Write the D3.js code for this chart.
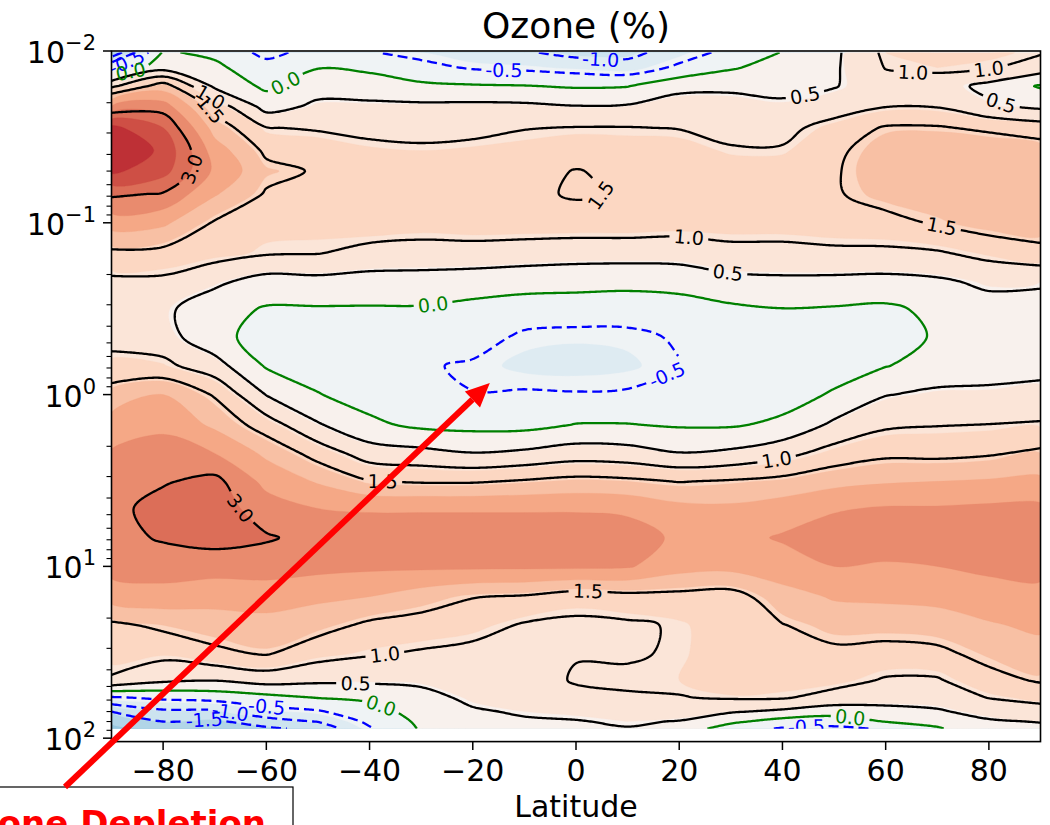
<!DOCTYPE html>
<html><head><meta charset="utf-8">
<script src="https://cdn.jsdelivr.net/npm/d3@7"></script>
<style>
body{margin:0;background:#fff;}
svg{display:block;font-family:"DejaVu Sans",sans-serif;}
</style>
</head><body>
<svg id="chart" width="1050" height="825"></svg>
<script>
// ---------------- DATA ----------------
const latitudes = [-90,-80,-70,-60,-50,-40,-30,-20,-10,0,10,20,30,40,50,60,70,80,90];
const pressures = [0.0102,0.0125,0.016,0.021,0.028,0.038,0.05,0.068,0.1,0.15,0.22,0.32,0.46,0.68,1.0,1.5,2.2,3.2,4.6,6.8,10,15,22,32,46,58,70,80,88];
// ozone change (%) per latitude, top (0.0102 hPa) to bottom (88 hPa)
const lat_m90 = [-1.9,-0.52,0.9,2.5,4.15,4.45,4.1,3.1,2.2,1.4,0.9,0.7,0.8,1.2,1.7,2.2,2.55,2.75,2.85,2.85,2.7,2.2,1.4,1.2,0.95,-0.55,-1.5,-1.9,-2.2];
const lat_m80 = [0.05,0.3,1.75,2.75,3.5,3.9,3.7,2.95,2.1,1.35,0.9,0.6,0.7,1.13,2.0,2.4,2.7,2.95,3.2,3.05,2.75,2.3,1.6,1.15,0.6,-0.4,-1.1,-1.5,-1.8];
const lat_m70 = [-0.1,0.1,0.4,1.3,1.8,2.25,2.4,2.05,1.45,1.2,0.6,0.2,0.15,0.7,1.45,1.9,2.5,3.15,3.25,3.2,2.7,2.2,1.75,1.4,0.52,-0.3,-1.1,-1.6,-1.8];
const lat_m60 = [-0.65,-0.3,-0.1,0.3,1.02,1.4,1.65,1.45,1.2,1.05,0.3,-0.05,-0.2,-0.05,0.48,1.25,1.9,2.35,2.75,3.05,2.75,2.2,1.85,1.55,0.7,-0.15,-0.7,-1.2,-1.6];
const lat_m50 = [-0.3,-0.02,0.3,0.6,0.95,1.3,1.45,1.35,1.2,1.02,0.35,-0.05,-0.25,-0.2,0.02,0.55,1.3,1.95,2.5,2.85,2.65,2.1,1.7,1.2,0.6,0.02,-0.55,-0.98,-1.35];
const lat_m40 = [-0.47,-0.1,0.25,0.6,0.85,1.15,1.3,1.4,1.3,0.85,0.3,-0.05,-0.3,-0.35,-0.2,0.1,0.75,1.52,2.45,2.8,2.6,2.0,1.4,1.05,0.6,0.1,-0.2,-0.4,-0.55];
const lat_m30 = [-0.65,-0.35,0.1,0.6,0.8,1.1,1.3,1.35,1.25,0.8,0.3,-0.05,-0.3,-0.45,-0.35,-0.1,0.65,1.45,2.45,2.8,2.6,1.75,1.3,0.95,0.6,0.35,0.2,0.1,0.05];
const lat_m20 = [-0.85,-0.55,0.05,0.62,0.85,1.15,1.3,1.35,1.3,0.8,0.25,-0.15,-0.3,-0.56,-0.49,-0.15,0.52,1.45,2.45,2.8,2.6,1.52,1.2,0.85,0.65,0.6,0.45,0.4,0.35];
const lat_m10 = [-0.95,-0.6,0.02,0.6,0.98,1.2,1.35,1.4,1.3,0.75,0.2,-0.25,-0.58,-0.72,-0.45,-0.15,0.6,1.55,2.45,2.8,2.6,1.45,0.95,0.8,0.75,0.65,0.55,0.45,0.4];
const lat_0   = [-1.15,-0.7,-0.05,0.52,1.02,1.3,1.52,1.55,1.3,0.7,0.18,-0.28,-0.62,-0.75,-0.47,0.02,0.75,1.65,2.45,2.8,2.6,1.25,0.88,0.97,1.05,0.85,0.6,0.48,0.45];
const lat_p10 = [-1.15,-0.8,-0.02,0.55,1.02,1.25,1.4,1.45,1.3,0.7,0.15,-0.3,-0.6,-0.7,-0.45,0.02,0.7,1.6,2.4,2.75,2.55,1.35,0.92,0.95,1.08,0.95,0.7,0.55,0.48];
const lat_p20 = [-0.75,-0.4,0.35,0.75,0.98,1.25,1.4,1.45,1.25,0.7,0.2,-0.25,-0.45,-0.52,-0.35,-0.05,0.52,1.48,2.15,2.4,2.2,1.35,1.05,1.05,1.1,0.98,0.7,0.48,0.3];
const lat_p30 = [-0.35,-0.05,0.4,0.7,0.85,1.05,1.3,1.4,1.25,0.85,0.35,-0.1,-0.3,-0.35,-0.25,-0.05,0.6,1.55,2.1,2.35,2.15,1.3,1.3,1.3,1.4,1.05,0.55,0.1,-0.25];
const lat_p40 = [0.02,0.2,0.35,0.6,0.85,1.05,1.3,1.4,1.25,0.85,0.4,-0.02,-0.25,-0.3,-0.2,0.1,0.85,1.65,2.25,2.55,2.3,1.8,1.48,1.3,1.2,1.05,0.4,-0.2,-0.55];
const lat_p50 = [0.4,0.43,0.47,0.75,1.2,1.4,1.45,1.45,1.3,0.9,0.38,-0.05,-0.25,-0.2,0.05,0.6,1.2,1.85,2.45,2.75,2.5,2.05,1.7,1.4,1.2,0.8,0.25,-0.3,-0.6];
const lat_p60 = [1.1,1.02,0.8,0.98,1.55,1.75,1.8,1.7,1.35,0.9,0.35,-0.1,-0.2,-0.02,0.48,0.92,1.4,1.95,2.55,2.75,2.45,2.1,1.7,1.35,0.95,0.7,0.35,0.02,-0.45];
const lat_p70 = [1.2,1.1,0.75,0.97,1.55,1.85,1.9,1.8,1.55,0.95,0.42,0.12,0.05,0.2,0.6,0.98,1.38,2.0,2.55,2.75,2.5,2.15,1.75,1.4,0.95,0.7,0.45,0.15,-0.05];
const lat_p80 = [1.15,1.05,0.35,0.6,1.4,1.9,1.95,1.9,1.75,1.15,0.6,0.3,0.2,0.3,0.6,1.01,1.45,2.05,2.6,2.85,2.6,2.3,1.95,1.65,1.35,1.02,0.65,0.45,0.35];
const lat_p90 = [1.05,0.75,-0.05,0.4,1.25,1.75,1.9,1.9,1.8,1.35,0.55,0.35,0.25,0.35,0.65,1.05,1.6,2.1,2.6,2.85,2.6,2.4,2.1,1.8,1.55,1.2,0.75,0.52,0.4];
const columns = [lat_m90,lat_m80,lat_m70,lat_m60,lat_m50,lat_m40,lat_m30,lat_m20,lat_m10,lat_0,lat_p10,lat_p20,lat_p30,lat_p40,lat_p50,lat_p60,lat_p70,lat_p80,lat_p90];

// filled-contour boundaries (shaded field) and the nominal band each one starts
const fillLevels   = [-2.5,-2.0,-1.5,-1.05,-0.65,0,0.55,1.1,1.6,2.0,2.5,3.0,3.5,4.0,4.5];
const fillNominal  = [-2.5,-2.0,-1.5,-1.0,-0.5,0,0.5,1.0,1.5,2.0,2.5,3.0,3.5,4.0,4.5];
const lineLevels = [-1.5,-1.0,-0.5,0.0,0.5,1.0,1.5,3.0];
// inline contour labels: [level, latitude, pressure]
const labelLevels = [0.0,1.0,1.5,3.0,-0.5,-1.0,1.5,0.5,1.0,1.0,0.5,1.5,1.0,0.5,0.0,-0.5,1.0,1.5,3.0,1.5,1.0,0.5,0.0,-0.5,-1.0,-1.5,0.0,-0.5,0.0,-0.5];
const labelLats   = [-56,-70.3,-71,-76.7,-14.1,4.6,7.5,44.4,65.3,80.2,82.7,70.7,21.7,29.4,-27.7,17.8,38.9,-37.4,-64.1,2.3,-37,-42.8,-37.4,-60,-67,-72,53,44.7,-86.4,-87.4];
const labelPres   = [0.0162,0.0173,0.0223,0.0461,0.0129,0.0117,0.085,0.0173,0.0144,0.0147,0.018,0.110,0.1276,0.188,0.293,0.790,2.50,3.14,4.39,12.8,31.9,49,60,64,71,74,75,83.8,0.0124,0.0108];

const xTicks = [-80,-60,-40,-20,0,20,40,60,80];
const yMajorTicks = [0.01,0.1,1,10,100];
const yTickExponents = ['\u22122','\u22121','0','1','2'];

const titleText = 'Ozone (%)';
const xLabelText = 'Latitude';
const annotationText = 'Ozone Depletion';
const arrowTipLat = -16.7, arrowTipPres = 0.856;

// ---------------- SETUP ----------------
const svg = d3.select('#chart');
const x = d3.scaleLinear().domain([-90, 90]).range([111.5, 1040.5]);
const y = d3.scaleLog().domain([0.01, 104.7]).range([51, 741.6]);

const nx = latitudes.length, ny = pressures.length;
const values = new Array(nx * ny);
for (let j = 0; j < ny; j++) for (let i = 0; i < nx; i++) values[j * nx + i] = columns[i][j];

const logP = pressures.map(p => Math.log10(p));
function gridToPixel(pt) {
  const u = Math.max(0, Math.min(nx - 1, pt[0] - 0.5));
  const v = Math.max(0, Math.min(ny - 1, pt[1] - 0.5));
  const i0 = Math.min(nx - 2, Math.floor(u)), fu = u - i0;
  const j0 = Math.min(ny - 2, Math.floor(v)), fv = v - j0;
  const lat = latitudes[i0] + fu * (latitudes[i0 + 1] - latitudes[i0]);
  const lp = logP[j0] + fv * (logP[j0 + 1] - logP[j0]);
  return [x(lat), y(Math.pow(10, lp))];
}
function dedupe(pts) {
  const out = [];
  pts.forEach(p => {
    const q = out[out.length - 1];
    if (!q || Math.hypot(p[0] - q[0], p[1] - q[1]) > 0.05) out.push(p);
  });
  return out;
}

const stops = ['#053061','#2166ac','#4393c3','#92c5de','#d1e5f0','#f7f7f7','#fddbc7','#f4a582','#d6604d','#b2182b','#67001f'];
const cmap = d3.piecewise(d3.interpolateRgb, stops);
const vmax = 5.8;
const bandColor = lo => cmap(Math.max(0, Math.min(1, 0.5 + (lo + 0.25) / (2 * vmax))));

const X0 = x(-90), X1 = x(90), Y0 = y(pressures[0]), Y1 = y(pressures[ny - 1]);

const defs = svg.append('defs');
defs.append('clipPath').attr('id', 'dataClip').append('rect')
  .attr('x', X0).attr('y', Y0).attr('width', X1 - X0).attr('height', Y1 - Y0);

const plot = svg.append('g').attr('clip-path', 'url(#dataClip)');

// ---------------- FILLS ----------------
plot.append('rect').attr('x', X0).attr('y', Y0).attr('width', X1 - X0).attr('height', Y1 - Y0)
  .attr('fill', bandColor(fillNominal[0] - 0.5));
const closedGen = d3.line().curve(d3.curveCatmullRomClosed.alpha(0.5));
const fillContours = d3.contours().size([nx, ny]).thresholds(fillLevels)(values);
fillContours.forEach(c => {
  const k = fillLevels.indexOf(c.value);
  const col = bandColor(fillNominal[k >= 0 ? k : 0]);
  let d = '';
  c.coordinates.forEach(poly => poly.forEach(ring => {
    const pts = dedupe(ring.slice(0, -1).map(gridToPixel));
    if (pts.length >= 3) d += closedGen(pts);
  }));
  if (d) plot.append('path').attr('d', d).attr('fill', col)
    .attr('fill-rule', 'evenodd').attr('stroke', col).attr('stroke-width', 0.3);
});

// ---------------- LINES ----------------
const tmp = svg.append('path').attr('visibility', 'hidden').attr('fill', 'none');
function sampleCurve(pts, closed) {
  if (pts.length < 2) return pts;
  const gen = d3.line().curve(closed ? d3.curveCatmullRomClosed.alpha(0.5) : d3.curveCatmullRom.alpha(0.5));
  tmp.attr('d', gen(pts));
  const node = tmp.node();
  const L = node.getTotalLength();
  const n = Math.max(2, Math.ceil(L / 1.5));
  const out = [];
  for (let k = 0; k <= n; k++) { const p = node.getPointAtLength(L * k / n); out.push([p.x, p.y]); }
  return out;
}
function levelLines(level) {
  const geom = d3.contours().size([nx, ny]).thresholds([level])(values)[0];
  const res = [];
  geom.coordinates.forEach(poly => poly.forEach(ring => {
    const pts = ring.slice(0, -1);
    const n = pts.length;
    if (n < 2) return;
    const fl = pts.map(p => {
      const u = p[0] - 0.5, v = p[1] - 0.5;
      return {L: u <= 1e-9, R: u >= nx - 1 - 1e-9, T: v <= 1e-9, B: v >= ny - 1 - 1e-9};
    });
    const isB = k => { const a = fl[k], b = fl[(k + 1) % n]; return (a.L && b.L) || (a.R && b.R) || (a.T && b.T) || (a.B && b.B); };
    let start = -1;
    for (let k = 0; k < n; k++) if (isB(k)) { start = k; break; }
    if (start < 0) {
      const px = dedupe(pts.map(gridToPixel));
      if (px.length >= 3) res.push({closed: true, pts: sampleCurve(px, true)});
      return;
    }
    let cur = null;
    const flush = () => {
      if (cur) { const px = dedupe(cur.map(gridToPixel)); if (px.length >= 2) res.push({closed: false, pts: sampleCurve(px, false)}); }
      cur = null;
    };
    for (let s = 1; s <= n; s++) {
      const k = (start + s) % n;
      if (isB(k)) flush();
      else { if (!cur) cur = [pts[k]]; cur.push(pts[(k + 1) % n]); }
    }
    flush();
  }));
  return res;
}

const lineStyle = lv => lv < 0 ? {c: '#0000ff', dash: '10,5'} : lv === 0 ? {c: '#008000', dash: null} : {c: '#000000', dash: null};
const linesG = plot.append('g');
const labelsG = svg.append('g').attr('clip-path', 'url(#dataClip)');
const lineGen = d3.line();

lineLevels.forEach(level => {
  const st = lineStyle(level);
  const lines = levelLines(level);
  const cuts = [];
  labelLevels.forEach((lv, idx) => {
    if (lv !== level) return;
    const tx = x(labelLats[idx]), ty = y(labelPres[idx]);
    let best = null, bd = 45;
    lines.forEach(l => l.pts.forEach((p, k) => {
      const d = Math.hypot(p[0] - tx, p[1] - ty);
      if (d < bd) { bd = d; best = {l, k}; }
    }));
    if (!best) return;
    const P = best.l.pts, k = best.k, m = P.length;
    const a = P[Math.max(0, k - 4)], b = P[Math.min(m - 1, k + 4)];
    let ang = Math.atan2(b[1] - a[1], b[0] - a[0]) * 180 / Math.PI;
    if (ang > 90) ang -= 180; if (ang < -90) ang += 180;
    const t = labelsG.append('text')
      .attr('transform', `translate(${P[k][0]},${P[k][1]}) rotate(${ang})`)
      .attr('text-anchor', 'middle').attr('dy', '0.36em')
      .style('font-size', '19px').attr('fill', st.c)
      .text(level.toFixed(1));
    const w = t.node().getComputedTextLength();
    cuts.push([P[k][0], P[k][1], w / 2 + 3]);
  });
  const inCut = p => cuts.some(c => Math.hypot(p[0] - c[0], p[1] - c[1]) < c[2]);
  lines.forEach(l => {
    let pts = l.pts;
    if (l.closed && cuts.length) {
      const idx = pts.findIndex(inCut);
      if (idx > 0) pts = pts.slice(idx).concat(pts.slice(1, idx + 1));
    }
    const pieces = [];
    let cur = [];
    pts.forEach(p => {
      if (inCut(p)) { if (cur.length > 1) pieces.push(cur); cur = []; }
      else cur.push(p);
    });
    if (cur.length > 1) pieces.push(cur);
    pieces.forEach(pc => {
      const path = linesG.append('path').attr('d', lineGen(pc)).attr('fill', 'none')
        .attr('stroke', st.c).attr('stroke-width', 2.3).attr('stroke-linejoin', 'round');
      if (st.dash) path.attr('stroke-dasharray', st.dash);
    });
  });
});
tmp.remove();

// ---------------- AXES ----------------
const axG = svg.append('g');
axG.append('rect').attr('x', X0).attr('y', 51).attr('width', X1 - X0).attr('height', 741.6 - 51)
  .attr('fill', 'none').attr('stroke', '#000').attr('stroke-width', 1.6);
xTicks.forEach(t => {
  axG.append('line').attr('x1', x(t)).attr('x2', x(t)).attr('y1', 741.6).attr('y2', 750)
    .attr('stroke', '#000').attr('stroke-width', 1.5);
  axG.append('text').attr('x', x(t)).attr('y', 781).attr('text-anchor', 'middle')
    .style('font-size', '30px').text(t < 0 ? '\u2212' + Math.abs(t) : String(t));
});
yMajorTicks.forEach((t, i) => {
  axG.append('line').attr('x1', 103).attr('x2', X0).attr('y1', y(t)).attr('y2', y(t))
    .attr('stroke', '#000').attr('stroke-width', 1.5);
  const tx = axG.append('text').attr('x', 96).attr('y', y(t) + 12).attr('text-anchor', 'end').style('font-size', '30px');
  tx.append('tspan').text('10');
  tx.append('tspan').attr('dy', -13).style('font-size', '21px').text(yTickExponents[i]);
});
for (let e = -2; e <= 1; e++) for (let k = 2; k <= 9; k++) {
  const v = k * Math.pow(10, e);
  axG.append('line').attr('x1', 106.5).attr('x2', X0).attr('y1', y(v)).attr('y2', y(v))
    .attr('stroke', '#000').attr('stroke-width', 1.1);
}
axG.append('text').attr('x', (X0 + X1) / 2).attr('y', 817).attr('text-anchor', 'middle')
  .style('font-size', '30px').text(xLabelText);
axG.append('text').attr('x', (X0 + X1) / 2).attr('y', 38).attr('text-anchor', 'middle')
  .style('font-size', '36px').text(titleText);

// ---------------- ANNOTATION ----------------
const ann = svg.append('g');
ann.append('rect').attr('x', -80).attr('y', 787).attr('width', 373).attr('height', 80)
  .attr('fill', '#fff').attr('stroke', '#000').attr('stroke-width', 1.2);
ann.append('text').attr('x', -51).attr('y', 835).style('font-size', '34px').style('font-weight', 'bold')
  .attr('fill', '#ff0000').text(annotationText);
const sx = 65, sy = 787, ex = x(arrowTipLat), ey = y(arrowTipPres);
const ang = Math.atan2(ey - sy, ex - sx);
const headL = 24, headW = 11;
const bx = ex - headL * Math.cos(ang), by = ey - headL * Math.sin(ang);
ann.append('line').attr('x1', sx).attr('y1', sy).attr('x2', bx).attr('y2', by)
  .attr('stroke', '#ff0000').attr('stroke-width', 6);
ann.append('path').attr('d', d3.line()([
  [ex, ey],
  [bx + headW * Math.sin(ang), by - headW * Math.cos(ang)],
  [bx - headW * Math.sin(ang), by + headW * Math.cos(ang)]
]) + 'Z').attr('fill', '#ff0000');
</script>
</body></html>
